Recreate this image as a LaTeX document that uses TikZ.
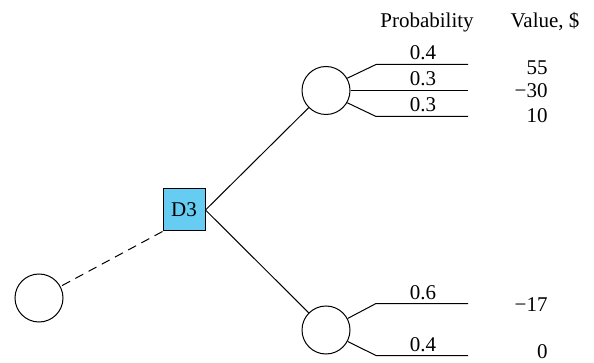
\documentclass[tikz,border=0pt]{standalone}
\usepackage{fontspec}
\setmainfont{Liberation Serif}
\definecolor{dbox}{RGB}{102,204,242}
\begin{document}
\begin{tikzpicture}[x=1pt,y=-1pt,line width=1pt,
  chance/.style={circle,draw,minimum size=48pt,inner sep=0pt},
  decision/.style={rectangle,draw,fill=dbox,minimum size=42pt,inner sep=0pt},
  lbl/.style={inner sep=0pt,anchor=base},
  val/.style={inner sep=0pt,anchor=base east},
  every node/.append style={font=\fontsize{21}{25}\selectfont}]
\useasboundingbox (0,0) rectangle (594,363);
\node[decision] (d3) at (184,210) {D3};
\node[chance] (c0) at (39,298) {};
\node[chance] (c1) at (326,90.5) {};
\node[chance] (c2) at (326,330) {};
\draw[dashed,dash pattern=on 9pt off 6pt] (d3.south west) -- (c0);
\draw (d3.east) -- (c1);
\draw (d3.east) -- (c2);
% top branches
\coordinate (k1) at (376,64.5); \coordinate (e1) at (468,64.5);
\coordinate (e2) at (468,90.5);
\coordinate (k3) at (376,116.5); \coordinate (e3) at (468,116.5);
\draw (c1.30) -- (k1) -- (e1);
\draw (c1.east) -- (e2);
\draw (c1.-30) -- (k3) -- (e3);
% bottom branches
\coordinate (k4) at (376,303.5); \coordinate (e4) at (468,303.5);
\coordinate (k5) at (376,355.5); \coordinate (e5) at (468,355.5);
\draw (c2.28) -- (k4) -- (e4);
\draw (c2.-28) -- (k5) -- (e5);
% headers
\node[lbl] (hp) at (427,28) {Probability};
\node[lbl] (hv) at (545,28) {Value, \$};
% probabilities
\node[lbl] (p1) at (423,60) {0.4};
\node[lbl] (p2) at (423,86) {0.3};
\node[lbl] (p3) at (423,112) {0.3};
\node[lbl] (p4) at (423,299) {0.6};
\node[lbl] (p5) at (423,351) {0.4};
% values
\node[val] (v1) at (548,75) {55};
\node[val] (v2) at (548,98) {−30};
\node[val] (v3) at (548,123) {10};
\node[val] (v4) at (548,311) {−17};
\node[val] (v5) at (548,358.5) {0};
\end{tikzpicture}
\end{document}
